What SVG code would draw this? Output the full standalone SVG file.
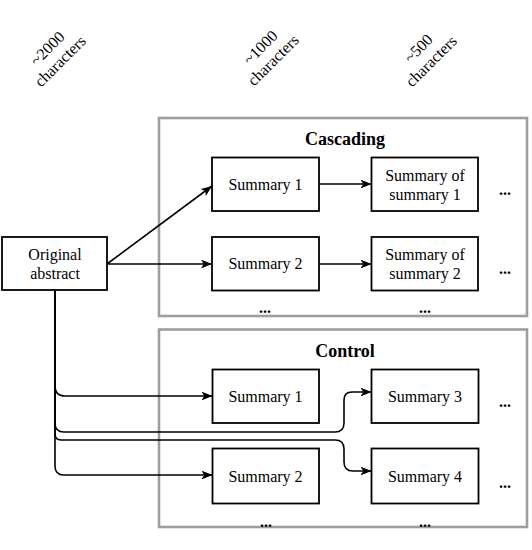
<svg xmlns="http://www.w3.org/2000/svg" width="532" height="550" viewBox="0 0 532 550" font-family="'Liberation Serif', 'Times New Roman', 'DejaVu Serif', serif">
<style>
.grp{fill:#fff;stroke:#9e9e9e;stroke-width:2.6}
.box{fill:#fff;stroke:#000;stroke-width:1.8}
text{font-family:'Liberation Serif','Times New Roman','DejaVu Serif',serif}
.t{font-size:16px;fill:#000;text-anchor:middle}
.title{font-size:18px;font-weight:bold;fill:#000;text-anchor:middle}
.dots{font-size:16px;font-weight:bold;fill:#000;text-anchor:middle}
.c{fill:none;stroke:#000;stroke-width:1.6;marker-end:url(#arr)}
</style>
<defs>
<marker id="arr" viewBox="0 0 10 8" markerWidth="11" markerHeight="9" refX="10" refY="4" orient="auto" markerUnits="userSpaceOnUse">
<path d="M0,0 L10,4 L0,8 L2.5,4 z" fill="#000"/>
</marker>
</defs>

<g id="labels">
<text class="t" transform="translate(54,55) rotate(-45)"><tspan x="0" y="-4">~2000</tspan><tspan x="0" y="14">characters</tspan></text>
<text class="t" transform="translate(267,54) rotate(-45)"><tspan x="0" y="-4">~1000</tspan><tspan x="0" y="14">characters</tspan></text>
<text class="t" transform="translate(425,55) rotate(-45)"><tspan x="0" y="-4">~500</tspan><tspan x="0" y="14">characters</tspan></text>
</g>

<g id="cascading">
<rect class="grp" x="159" y="118" width="368" height="198"/>
<text class="title" x="345" y="145">Cascading</text>
<text class="dots" x="505" y="195">...</text>
<text class="dots" x="505" y="274">...</text>
<text class="dots" x="265" y="313">...</text>
<text class="dots" x="425" y="313">...</text>
</g>

<g id="control">
<rect class="grp" x="159" y="329.5" width="368" height="197.5"/>
<text class="title" x="345" y="357">Control</text>
<text class="dots" x="505" y="407">...</text>
<text class="dots" x="505" y="488">...</text>
<text class="dots" x="266" y="527">...</text>
<text class="dots" x="425" y="527">...</text>
</g>

<g id="original">
<rect class="box" x="2" y="237" width="105" height="53"/>
<text class="t" x="55" y="259.5">Original</text>
<text class="t" x="55" y="278.5">abstract</text>
</g>

<g id="c-sum1">
<rect class="box" x="212" y="157.5" width="107" height="53.5"/>
<text class="t" x="265.5" y="189.5">Summary 1</text>
</g>
<g id="c-sos1">
<rect class="box" x="371.5" y="157.5" width="106.5" height="53.5"/>
<text class="t" x="425" y="180.5">Summary of</text>
<text class="t" x="425" y="199.5">summary 1</text>
</g>
<g id="c-sum2">
<rect class="box" x="212" y="237" width="107" height="53.5"/>
<text class="t" x="265.5" y="269">Summary 2</text>
</g>
<g id="c-sos2">
<rect class="box" x="371.5" y="237" width="106.5" height="53.5"/>
<text class="t" x="425" y="260">Summary of</text>
<text class="t" x="425" y="279">summary 2</text>
</g>

<g id="k-sum1">
<rect class="box" x="212.5" y="369.5" width="106.5" height="53.5"/>
<text class="t" x="265.5" y="401.5">Summary 1</text>
</g>
<g id="k-sum3">
<rect class="box" x="371.5" y="369.5" width="107" height="53.5"/>
<text class="t" x="425" y="401.5">Summary 3</text>
</g>
<g id="k-sum2">
<rect class="box" x="212.5" y="448.5" width="106.5" height="55"/>
<text class="t" x="265.5" y="481.5">Summary 2</text>
</g>
<g id="k-sum4">
<rect class="box" x="371.5" y="448.5" width="107" height="55"/>
<text class="t" x="425" y="481.5">Summary 4</text>
</g>

<g id="connectors">
<path class="c" d="M107,264 L212,186"/>
<path class="c" d="M107,264 H212"/>
<path class="c" d="M319,184 H371.5"/>
<path class="c" d="M319,264 H371.5"/>
<path class="c" d="M55,290 V386 Q55,396 65,396 H212.5"/>
<path class="c" d="M55,290 V423 Q55,432 64,432 H335 Q344,432 344,423 V400 Q344,392 352,392 H371.5"/>
<path class="c" d="M55,290 V434 Q55,440 61,440 H335 Q344,440 344,449 V462 Q344,471 353,471 H371.5"/>
<path class="c" d="M55,290 V466 Q55,475 64,475 H212.5"/>
</g>
</svg>
